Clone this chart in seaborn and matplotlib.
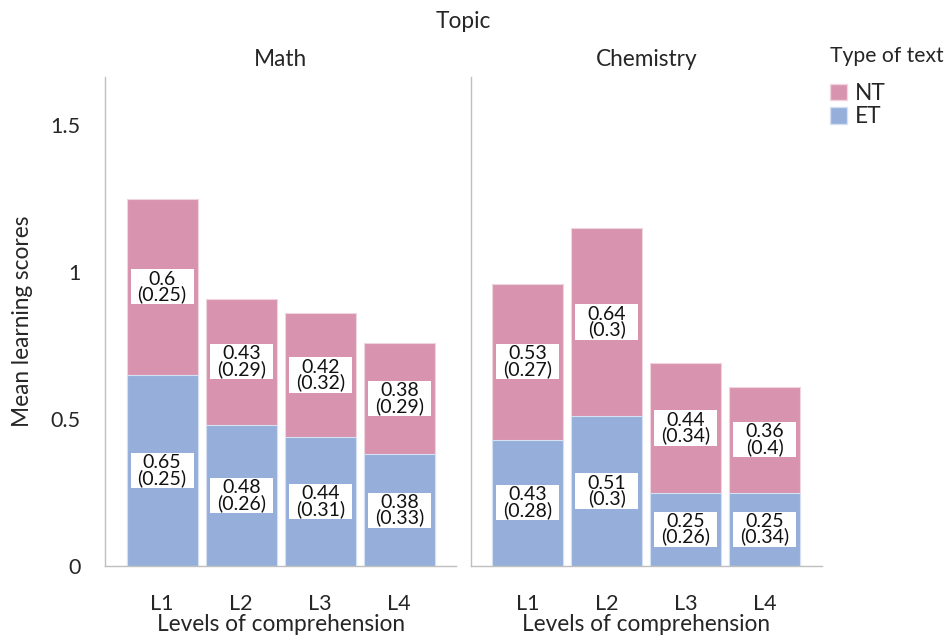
import matplotlib
matplotlib.use("Agg")
import matplotlib.pyplot as plt
from matplotlib.patches import Patch, Rectangle
from matplotlib.ticker import FuncFormatter
import seaborn as sns
import pandas as pd

# data
levels = ["L1", "L2", "L3", "L4"]
topics = ["Math", "Chemistry"]

math_et_mean = [0.65, 0.48, 0.44, 0.38]
math_et_sd = [0.25, 0.26, 0.31, 0.33]
math_nt_mean = [0.60, 0.43, 0.42, 0.38]
math_nt_sd = [0.25, 0.29, 0.32, 0.29]

chem_et_mean = [0.43, 0.51, 0.25, 0.25]
chem_et_sd = [0.28, 0.30, 0.26, 0.34]
chem_nt_mean = [0.53, 0.64, 0.44, 0.36]
chem_nt_sd = [0.27, 0.30, 0.34, 0.40]

pink = "#D893AE"
blue = "#95AFDA"

rows = []
for topic, etm, ets, ntm, nts in [
    ("Math", math_et_mean, math_et_sd, math_nt_mean, math_nt_sd),
    ("Chemistry", chem_et_mean, chem_et_sd, chem_nt_mean, chem_nt_sd),
]:
    for lvl, a, b, c, d in zip(levels, etm, ets, ntm, nts):
        rows.append(dict(Topic=topic, Level=lvl, ET=a, ET_sd=b, NT=c, NT_sd=d))
df = pd.DataFrame(rows)
df["Total"] = df["ET"] + df["NT"]

sns.set_theme(style="white")
plt.rcParams["font.family"] = ["Lato", "DejaVu Sans"]
FS = 16.3

fig = plt.figure(figsize=(9.51, 6.37), dpi=100)
positions = [[0.1107, 0.1115, 0.369, 0.768], [0.495, 0.1115, 0.369, 0.768]]


def label_fmt(v):
    return f"{v:g}"


for k, topic in enumerate(topics):
    ax = fig.add_axes(positions[k])
    sub = df[df["Topic"] == topic]
    sns.barplot(data=sub, x="Level", y="Total", order=levels, color=pink,
                saturation=1, width=0.9, errorbar=None, ax=ax,
                edgecolor="#F0D5DF", linewidth=0.8)
    sns.barplot(data=sub, x="Level", y="ET", order=levels, color=blue,
                saturation=1, width=0.9, errorbar=None, ax=ax,
                edgecolor="#D5E0F2", linewidth=0.8)

    for i, r in enumerate(sub.itertuples()):
        for mid, m, s in [(r.ET / 2, r.ET, r.ET_sd),
                          (r.ET + r.NT / 2, r.NT, r.NT_sd)]:
            ax.add_patch(Rectangle((i - 0.4, mid - 0.06), 0.8, 0.12,
                                   facecolor="white", edgecolor="none", zorder=3))
            ax.text(i, mid, f"{label_fmt(m)}\n({label_fmt(s)})", ha="center",
                    va="center", fontsize=14, linespacing=0.85, zorder=4,
                    color="#111111")

    ax.set_xlim(-0.72, 3.72)
    ax.set_ylim(0, 1.665)
    ax.set_yticks([0, 0.5, 1, 1.5])
    ax.yaxis.set_major_formatter(FuncFormatter(lambda v, p: f"{v:g}"))
    ax.set_xlabel("Levels of comprehension", fontsize=FS, labelpad=0)
    ax.set_title(topic, fontsize=FS, pad=8)
    ax.tick_params(axis="both", length=0, labelsize=FS - 0.8)
    ax.tick_params(axis="x", pad=20)
    ax.tick_params(axis="y", pad=18)
    sns.despine(ax=ax)
    for sp in ["left", "bottom"]:
        ax.spines[sp].set_color("#BFBFBF")
        ax.spines[sp].set_linewidth(1.0)
    if k == 0:
        ax.set_ylabel("Mean learning scores", fontsize=FS, labelpad=12)
    else:
        ax.set_ylabel("")
        ax.set_yticklabels([])

fig.text(0.487, 1 - 21 / 637, "Topic", ha="center", va="center", fontsize=FS)
fig.text(830 / 951, 1 - 56 / 637, "Type of text", ha="left", va="center",
         fontsize=15.2)

handles = [Patch(facecolor=pink, edgecolor="#F0D5DF"),
           Patch(facecolor=blue, edgecolor="#D5E0F2")]
leg = fig.legend(handles, ["NT", "ET"], loc="upper left",
                 bbox_to_anchor=(830 / 951, 1 - 83 / 637), frameon=False,
                 fontsize=FS, handlelength=0.75, handleheight=0.75,
                 handletextpad=0.35, labelspacing=0.1, borderpad=0,
                 borderaxespad=0)

fig.savefig("out.png", dpi=100)
